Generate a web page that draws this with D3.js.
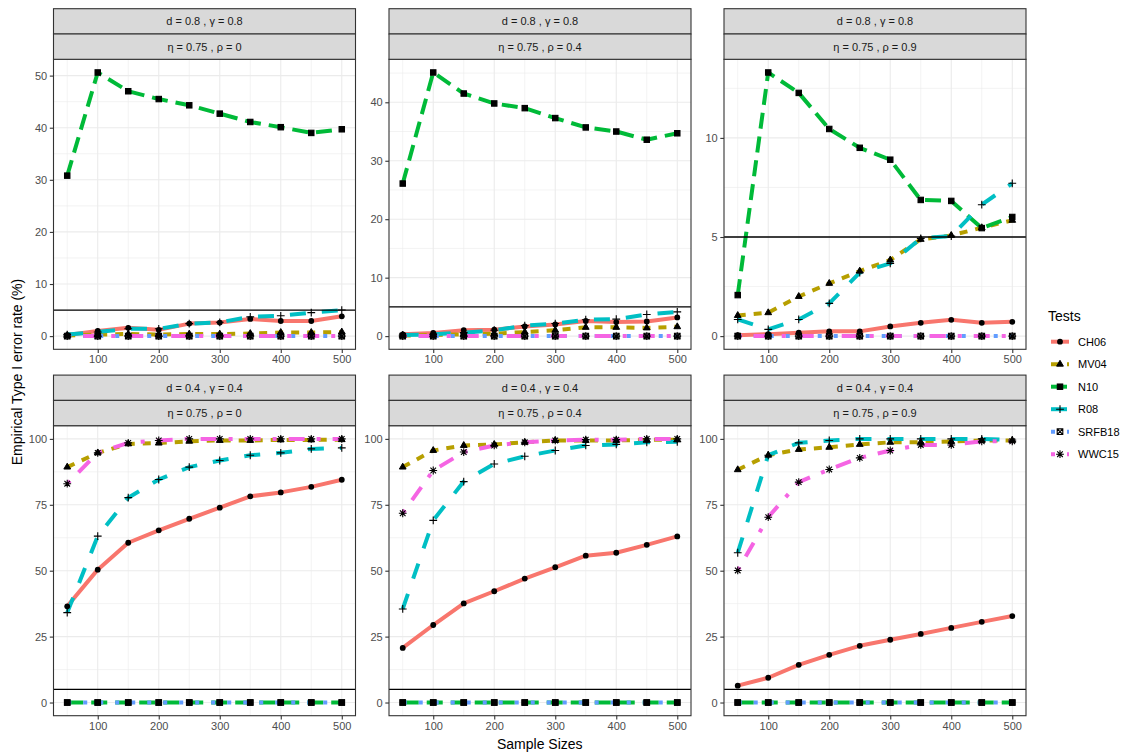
<!DOCTYPE html>
<html>
<head>
<meta charset="utf-8">
<script src="https://cdn.jsdelivr.net/npm/d3@7"></script>
<style>
  body { margin: 0; background: #fff; }
  text { font-family: "Liberation Sans", Arial, sans-serif; }
</style>
</head>
<body>
<svg id="chart" width="1127" height="754"></svg>
<script>
// ---- data -------------------------------------------------------------
const sampleSizes = [50, 100, 150, 200, 250, 300, 350, 400, 450, 500];
const tests = ["CH06", "MV04", "N10", "R08", "SRFB18", "WWC15"];
const testColors = ["#F8766D", "#B79F00", "#00BA38", "#00BFC4", "#619CFF", "#F564E3"];

// facet labels, panels in reading order
const stripTop = ["d = 0.8 , γ = 0.8", "d = 0.8 , γ = 0.8", "d = 0.8 , γ = 0.8",
                  "d = 0.4 , γ = 0.4", "d = 0.4 , γ = 0.4", "d = 0.4 , γ = 0.4"];
const stripSub = ["η = 0.75 , ρ = 0", "η = 0.75 , ρ = 0.4", "η = 0.75 , ρ = 0.9",
                  "η = 0.75 , ρ = 0", "η = 0.75 , ρ = 0.4", "η = 0.75 , ρ = 0.9"];

const xTicks = [100, 200, 300, 400, 500];
const yTicks = [
  [0, 10, 20, 30, 40, 50],
  [0, 10, 20, 30, 40],
  [0, 5, 10],
  [0, 25, 50, 75, 100],
  [0, 25, 50, 75, 100],
  [0, 25, 50, 75, 100]
];
const nominalLevel = 5;

// empirical rejection rates (%), one row per panel
const CH06 = [
  [0.2, 1.0, 1.6, 1.2, 2.4, 2.6, 3.3, 2.9, 2.9, 3.8],
  [0.3, 0.55, 1.0, 1.1, 1.65, 2.0, 2.6, 2.4, 2.5, 3.2],
  [0.05, 0.1, 0.17, 0.24, 0.24, 0.49, 0.67, 0.82, 0.67, 0.72],
  [36.5, 50.4, 60.6, 65.3, 69.7, 73.9, 78.2, 79.7, 81.8, 84.5],
  [20.7, 29.4, 37.6, 42.2, 47.0, 51.3, 55.7, 56.8, 59.8, 63.0],
  [6.4, 9.4, 14.3, 18.1, 21.5, 23.8, 26.0, 28.3, 30.6, 32.8]
];
const MV04 = [
  [0.1, 0.3, 0.4, 0.3, 0.4, 0.4, 0.5, 0.7, 0.7, 0.8],
  [0.1, 0.2, 0.3, 0.4, 0.7, 1.0, 1.5, 1.5, 1.4, 1.6],
  [1.04, 1.18, 2.0, 2.66, 3.28, 3.84, 4.88, 5.08, 5.47, 5.84],
  [89.3, 94.7, 98.1, 98.4, 99.1, 99.4, 99.4, 99.6, 99.6, 99.7],
  [89.3, 95.6, 97.5, 97.9, 98.7, 99.4, 99.4, 99.4, 99.6, 99.7],
  [88.3, 93.8, 96.0, 96.8, 97.9, 98.7, 98.7, 99.0, 99.4, 99.4]
];
const N10 = [
  [30.8, 50.6, 47.0, 45.5, 44.3, 42.7, 41.1, 40.1, 39.0, 39.7],
  [26.1, 45.1, 41.5, 39.8, 39.0, 37.3, 35.7, 35.0, 33.6, 34.7],
  [2.07, 13.3, 12.27, 10.45, 9.5, 8.9, 6.87, 6.82, 5.45, 6.01],
  [0, 0, 0, 0, 0, 0, 0, 0, 0, 0],
  [0, 0, 0, 0, 0, 0, 0, 0, 0, 0],
  [0, 0, 0, 0, 0, 0, 0, 0, 0, 0]
];
const R08 = [
  [0.3, 0.8, 1.4, 1.4, 2.4, 2.65, 3.7, 3.9, 4.5, 5.0],
  [0.2, 0.3, 0.6, 1.0, 1.8, 2.15, 2.8, 2.9, 3.7, 4.15],
  [0.84, 0.34, 0.84, 1.65, 3.2, 3.67, 4.93, 5.05, 6.63, 7.71],
  [34.1, 63.1, 77.7, 84.6, 89.3, 91.8, 93.8, 94.7, 96.2, 96.6],
  [35.5, 69.1, 83.8, 90.5, 93.4, 95.6, 97.5, 97.9, 98.7, 98.9],
  [56.8, 93.8, 98.5, 99.4, 100, 100, 100, 100, 100, 99.6]
];
const SRFB18 = [
  [0, 0, 0, 0, 0, 0, 0, 0, 0, 0],
  [0, 0, 0, 0, 0, 0, 0, 0, 0, 0],
  [0, 0, 0, 0, 0, 0, 0, 0, 0, 0],
  [0, 0, 0, 0, 0, 0, 0, 0, 0, 0],
  [0, 0, 0, 0, 0, 0, 0, 0, 0, 0],
  [0, 0, 0, 0, 0, 0, 0, 0, 0, 0]
];
const WWC15 = [
  [0, 0, 0, 0, 0, 0, 0, 0, 0, 0],
  [0, 0, 0, 0, 0, 0, 0, 0, 0, 0],
  [0, 0, 0, 0, 0, 0, 0, 0, 0, 0],
  [83.0, 94.7, 98.5, 99.4, 100, 100, 100, 100, 100, 100],
  [71.8, 88.0, 95.0, 97.5, 98.7, 99.4, 99.7, 99.7, 100, 100],
  [50.1, 70.3, 83.6, 88.4, 92.8, 95.6, 97.7, 97.7, 99.1, 99.1]
];
const seriesByTest = [CH06, MV04, N10, R08, SRFB18, WWC15];

// ---- styling ----------------------------------------------------------
const lineWidth = 4;
const dashes = [null, "8,8", "16,8", "16,16", "4,12", "4,12,16,12"];
const shapes = ["circle", "triangle", "square", "plus", "squarex", "asterisk"];

const panelW = 302, panelH = 290, stripH = 25.3;
const panelX = [53.5, 389, 724];
const panelY = [59.3, 425.7];

const svg = d3.select("#chart");
svg.append("rect").attr("width", 1127).attr("height", 754).attr("fill", "#fff");

function drawMarker(g, shape, x, y) {
  const s = "#000";
  if (shape === "circle") {
    g.append("circle").attr("cx", x).attr("cy", y).attr("r", 2.9).attr("fill", s);
  } else if (shape === "triangle") {
    const r = 3.9;
    g.append("path")
      .attr("d", `M${x},${y - r}L${x + r * 0.866},${y + r * 0.5}L${x - r * 0.866},${y + r * 0.5}Z`)
      .attr("fill", s).attr("stroke", s).attr("stroke-width", 1).attr("stroke-linejoin", "round");
  } else if (shape === "square") {
    const h = 2.7;
    g.append("rect").attr("x", x - h).attr("y", y - h).attr("width", 2 * h).attr("height", 2 * h)
      .attr("fill", s).attr("stroke", s).attr("stroke-width", 1.1);
  } else if (shape === "plus") {
    const h = 3.9;
    g.append("path").attr("d", `M${x - h},${y}H${x + h}M${x},${y - h}V${y + h}`)
      .attr("stroke", s).attr("stroke-width", 1.1).attr("fill", "none");
  } else if (shape === "squarex") {
    const h = 2.8;
    g.append("path")
      .attr("d", `M${x - h},${y - h}H${x + h}V${y + h}H${x - h}Z M${x - h},${y - h}L${x + h},${y + h}M${x + h},${y - h}L${x - h},${y + h}`)
      .attr("stroke", s).attr("stroke-width", 1.1).attr("fill", "none");
  } else if (shape === "asterisk") {
    const h = 2.8, p = 3.9;
    g.append("path")
      .attr("d", `M${x - h},${y - h}L${x + h},${y + h}M${x + h},${y - h}L${x - h},${y + h}M${x - p},${y}H${x + p}M${x},${y - p}V${y + p}`)
      .attr("stroke", s).attr("stroke-width", 1.1).attr("fill", "none");
  }
}

function minorBreaks(ticks, domain) {
  const step = ticks[1] - ticks[0];
  const out = [];
  for (let t = ticks[0] - step / 2; t <= domain[1]; t += step) {
    if (t >= domain[0]) out.push(t);
  }
  return out;
}

// ---- panels -----------------------------------------------------------
for (let p = 0; p < 6; p++) {
  const col = p % 3, row = Math.floor(p / 3);
  const x0 = panelX[col], y0 = panelY[row];

  const x = d3.scaleLinear().domain([27.5, 522.5]).range([x0, x0 + panelW]);

  const vals = seriesByTest.flatMap(arr => arr[p]).concat([nominalLevel]);
  const lo = d3.min(vals), hi = d3.max(vals), pad = (hi - lo) * 0.05;
  const y = d3.scaleLinear().domain([lo - pad, hi + pad]).range([y0 + panelH, y0]);

  const g = svg.append("g");
  g.append("rect").attr("x", x0).attr("y", y0).attr("width", panelW).attr("height", panelH).attr("fill", "#fff");

  // grid
  const xMinor = minorBreaks(xTicks, x.domain());
  const yMinor = minorBreaks(yTicks[p], y.domain());
  g.selectAll(".xmin").data(xMinor).join("line")
    .attr("x1", d => x(d)).attr("x2", d => x(d)).attr("y1", y0).attr("y2", y0 + panelH)
    .attr("stroke", "#EBEBEB").attr("stroke-width", 0.6);
  g.selectAll(".ymin").data(yMinor).join("line")
    .attr("y1", d => y(d)).attr("y2", d => y(d)).attr("x1", x0).attr("x2", x0 + panelW)
    .attr("stroke", "#EBEBEB").attr("stroke-width", 0.6);
  g.selectAll(".xmaj").data(xTicks).join("line")
    .attr("x1", d => x(d)).attr("x2", d => x(d)).attr("y1", y0).attr("y2", y0 + panelH)
    .attr("stroke", "#EBEBEB").attr("stroke-width", 1.1);
  g.selectAll(".ymaj").data(yTicks[p]).join("line")
    .attr("y1", d => y(d)).attr("y2", d => y(d)).attr("x1", x0).attr("x2", x0 + panelW)
    .attr("stroke", "#EBEBEB").attr("stroke-width", 1.1);

  // lines
  const line = d3.line().x((d, i) => x(sampleSizes[i])).y(d => y(d));
  tests.forEach((t, k) => {
    g.append("path")
      .datum(seriesByTest[k][p])
      .attr("d", line)
      .attr("fill", "none")
      .attr("stroke", testColors[k])
      .attr("stroke-width", lineWidth)
      .attr("stroke-linecap", "butt")
      .attr("stroke-linejoin", "round")
      .attr("stroke-dasharray", dashes[k]);
  });

  // points
  tests.forEach((t, k) => {
    seriesByTest[k][p].forEach((v, i) => drawMarker(g, shapes[k], x(sampleSizes[i]), y(v)));
  });

  // nominal level
  g.append("line")
    .attr("x1", x0).attr("x2", x0 + panelW).attr("y1", y(nominalLevel)).attr("y2", y(nominalLevel))
    .attr("stroke", "#000").attr("stroke-width", 1.3);

  // border
  g.append("rect").attr("x", x0).attr("y", y0).attr("width", panelW).attr("height", panelH)
    .attr("fill", "none").attr("stroke", "#333333").attr("stroke-width", 1.1);

  // axes
  const ax = g.append("g").attr("transform", `translate(0,${y0 + panelH})`)
    .call(d3.axisBottom(x).tickValues(xTicks).tickSize(3.7).tickPadding(2.6));
  const ay = g.append("g").attr("transform", `translate(${x0},0)`)
    .call(d3.axisLeft(y).tickValues(yTicks[p]).tickSize(3.7).tickPadding(2.6));
  [ax, ay].forEach(a => {
    a.select(".domain").remove();
    a.selectAll(".tick line").attr("stroke", "#333333").attr("stroke-width", 1.1);
    a.selectAll(".tick text").attr("fill", null).style("fill", "#4D4D4D").style("font-size", "11px")
      .style("font-family", '"Liberation Sans", Arial, sans-serif');
  });

  // strips
  const labels = [stripTop[p], stripSub[p]];
  labels.forEach((lab, j) => {
    const sy = y0 - stripH * (2 - j);
    g.append("rect").attr("x", x0).attr("y", sy).attr("width", panelW).attr("height", stripH)
      .attr("fill", "#D9D9D9").attr("stroke", "#333333").attr("stroke-width", 1.1);
    g.append("text").attr("x", x0 + panelW / 2).attr("y", sy + stripH / 2)
      .attr("text-anchor", "middle").attr("dominant-baseline", "central")
      .style("fill", "#1A1A1A").style("font-size", "11px").text(lab);
  });
}

// ---- axis titles ------------------------------------------------------
svg.append("text")
  .attr("x", (panelX[0] + panelX[2] + panelW) / 2).attr("y", 744)
  .attr("text-anchor", "middle").attr("dominant-baseline", "central")
  .style("font-size", "14px").style("fill", "#000").text("Sample Sizes");

svg.append("text")
  .attr("transform", "translate(17,372) rotate(-90)")
  .attr("text-anchor", "middle").attr("dominant-baseline", "central")
  .style("font-size", "14px").style("fill", "#000").text("Empirical Type I error rate (%)");

// ---- legend -----------------------------------------------------------
const lg = svg.append("g");
lg.append("text").attr("x", 1048).attr("y", 316).attr("dominant-baseline", "central")
  .style("font-size", "14px").style("fill", "#000").text("Tests");
tests.forEach((t, k) => {
  const ky = 341.7 + k * 22.5;
  lg.append("line").attr("x1", 1051).attr("x2", 1069).attr("y1", ky).attr("y2", ky)
    .attr("stroke", testColors[k]).attr("stroke-width", lineWidth)
    .attr("stroke-linecap", "butt").attr("stroke-dasharray", dashes[k]);
  drawMarker(lg, shapes[k], 1060, ky);
  lg.append("text").attr("x", 1078).attr("y", ky).attr("dominant-baseline", "central")
    .style("font-size", "11px").style("fill", "#000").text(t);
});
</script>
</body>
</html>
